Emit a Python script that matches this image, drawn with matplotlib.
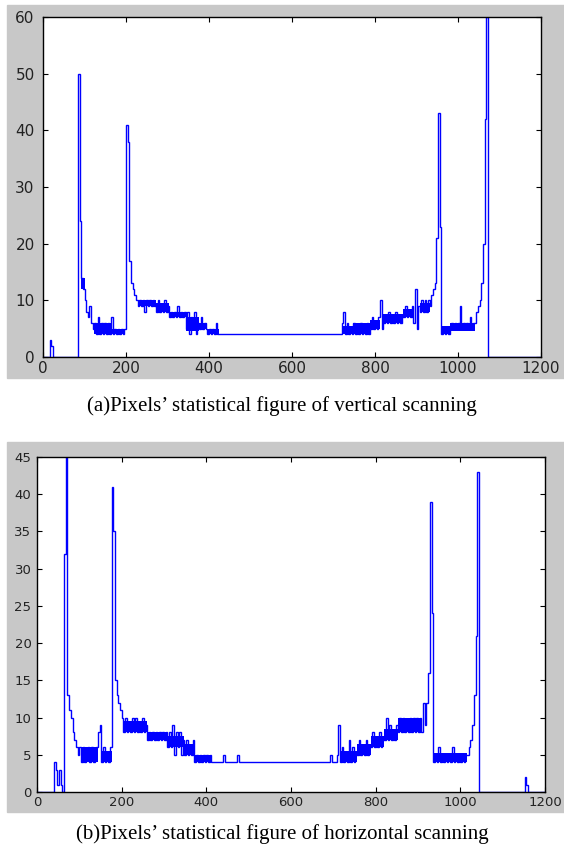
import numpy as np
import matplotlib
matplotlib.use('Agg')
import matplotlib.pyplot as plt
from matplotlib.patches import Rectangle

# pixel counts, one value per 4 columns (0..1200)
bin_w = 4
vert = ([0, 0, 0, 0] + [3, 2] + [0] * 15
        + [50, 24, 14, 12, 10, 8, 7, 9, 6, 5]
        + [6, 4, 7, 4, 6, 4, 6, 4, 6, 4, 7, 4, 5, 4, 5, 4, 5, 4, 5]
        + [41, 38, 17, 13, 12, 11, 10]
        + [9, 10, 9, 10, 8, 10, 9, 10, 9, 10, 9]
        + [8, 10, 8, 9, 8, 10, 8, 9]
        + [7, 8, 7, 8, 7, 9, 7, 8, 7, 8]
        + [5, 8, 4, 7, 5, 8, 4, 6]
        + [5, 7, 5, 6, 5]
        + [4, 5, 4, 5, 4, 6, 4]
        + [4] * 74
        + [6, 8, 4, 6, 4, 5, 4]
        + [6, 4, 5, 4, 6, 4, 5, 4, 6, 4]
        + [5, 7, 5, 6, 5, 7]
        + [10, 5]
        + [6, 7, 6, 8, 6, 7, 6, 8, 6, 7, 6, 7]
        + [7, 9, 7, 8, 7, 9]
        + [6, 12, 5, 9]
        + [8, 10, 8, 10, 8, 10]
        + [9, 11, 12, 13, 21]
        + [43, 23]
        + [4, 5, 4, 5, 4]
        + [5, 6, 5, 6, 5, 6, 9, 5, 6, 5, 6, 5, 7, 5, 6]
        + [6, 8, 9]
        + [10, 13, 20, 42]
        + [60]
        + [0] * 32)

horiz = ([0] * 10 + [4, 3, 1, 3, 1, 0]
         + [32, 46, 13, 11, 10, 8, 7, 6, 5, 6]
         + [4, 6, 4, 5, 6, 4, 6, 4, 5, 6]
         + [8, 9]
         + [4, 6, 4, 5, 4, 6]
         + [41, 35, 15, 13, 12, 11, 10]
         + [8, 10, 8, 9, 8, 10, 8, 10, 8, 9, 8, 10, 8, 9]
         + [7, 8, 7, 8, 7, 8, 7, 8, 7, 8, 7, 8]
         + [6, 8, 6, 9, 5, 8, 6, 8, 5, 7]
         + [5, 7, 5, 6, 5, 7]
         + [4, 5, 4, 5, 4, 5, 4, 5, 4, 5]
         + [4] * 7 + [5] + [4] * 7 + [5] + [4] * 54 + [5] + [4]
         + [4, 4, 5, 9]
         + [4, 6, 4, 5, 4, 7, 4, 6, 4, 5]
         + [5, 7, 5, 6, 5, 7, 5, 6]
         + [6, 8, 6, 7, 6, 8, 6, 7]
         + [7, 10, 7, 9, 7, 8, 7, 9]
         + [8, 10, 8, 10, 8, 9, 8, 10, 8, 10, 8, 10, 8, 10]
         + [8, 12, 9, 12, 16]
         + [39, 24]
         + [4, 5, 4, 6, 4, 5, 4, 5, 4, 5, 4, 6, 4, 5, 4, 5, 4, 5, 4, 5]
         + [5, 6, 7, 9, 13, 21, 43]
         + [0] * 27
         + [2, 1]
         + [0] * 10)

# dense (rapidly oscillating) stretches: start col, end col, low, high
vert_band_x0 = [92, 122, 165, 228, 272, 304, 344, 376, 396, 720, 748, 788, 820, 868, 908, 960, 980]
vert_band_x1 = [100, 165, 198, 272, 304, 344, 376, 396, 424, 748, 788, 812, 868, 892, 932, 980, 1040]
vert_band_lo = [12, 4, 4, 9, 8, 7, 4.5, 5, 4, 4, 4, 5, 6, 7, 8, 4, 4.5]
vert_band_hi = [14, 6, 5, 10, 9.5, 8, 7, 6, 5, 5.5, 6, 6.5, 7.5, 8.5, 9.5, 5.5, 6]

horiz_band_x0 = [104, 152, 204, 260, 308, 348, 372, 716, 756, 788, 820, 852, 936]
horiz_band_x1 = [144, 176, 260, 308, 348, 372, 412, 756, 788, 820, 852, 908, 1016]
horiz_band_lo = [4, 4, 8, 7, 6, 5, 4, 4, 5, 6, 7, 8, 4]
horiz_band_hi = [6, 5.5, 9.5, 8, 7.5, 6.5, 5, 5.5, 6.5, 7.5, 8.5, 10, 5.3]

captions = ['(a)Pixels\u2019 statistical figure of vertical scanning',
            '(b)Pixels\u2019 statistical figure of horizontal scanning']

W, H = 564, 850
fig = plt.figure(figsize=(W / 100, H / 100), dpi=100, facecolor='white')

gray = '#c8c8c8'
blue = '#0000ff'
fig.patches.append(Rectangle((7 / W, 1 - 378 / H), 557 / W, 373 / H,
                             transform=fig.transFigure, color=gray, zorder=-1))
fig.patches.append(Rectangle((7 / W, 1 - 812 / H), 557 / W, 370 / H,
                             transform=fig.transFigure, color=gray, zorder=-1))

axa = fig.add_axes([43 / W, 1 - 357 / H, 498 / W, 340 / H])
axb = fig.add_axes([37 / W, 1 - 792 / H, 508 / W, 335 / H])

setups = [
    (axa, vert, (vert_band_x0, vert_band_x1, vert_band_lo, vert_band_hi), 60, 10, 11, 6),
    (axb, horiz, (horiz_band_x0, horiz_band_x1, horiz_band_lo, horiz_band_hi), 45, 5, 9.5, 4),
]
for ax, vals, bands, ymax, ystep, fs, ypad in setups:
    ax.set_zorder(2)
    edges = np.arange(len(vals) + 1) * bin_w
    ax.stairs(vals, edges, baseline=None, color=blue, lw=1.0)
    for x0, x1, lo, hi in zip(*bands):
        ax.fill_between([x0, x1], [lo, lo], [hi, hi], color=blue, lw=0)
    ax.set_xlim(0, 1200)
    ax.set_ylim(0, ymax)
    ax.set_xticks(np.arange(0, 1201, 200))
    ax.set_yticks(np.arange(0, ymax + 1, ystep))
    ax.tick_params(direction='in', top=True, right=True, length=3.5,
                   width=0.8, labelsize=fs, colors='black')
    ax.tick_params(axis='y', pad=ypad)
    ax.tick_params(axis='x', pad=3)
    for lab in ax.get_xticklabels() + ax.get_yticklabels():
        lab.set_family('DejaVu Sans')
        lab.set_color('#222222')
    for s in ax.spines.values():
        s.set_color('black')
        s.set_linewidth(1.0)
    ax.set_facecolor('white')

fig.text(0.5, 1 - 406 / H, captions[0], ha='center', va='center',
         family='Liberation Serif', fontsize=15)
fig.text(0.5, 1 - 834 / H, captions[1], ha='center', va='center',
         family='Liberation Serif', fontsize=15)

assert len(vert) == 300 and len(horiz) == 300
fig.savefig('out.png', dpi=100, facecolor='white')
